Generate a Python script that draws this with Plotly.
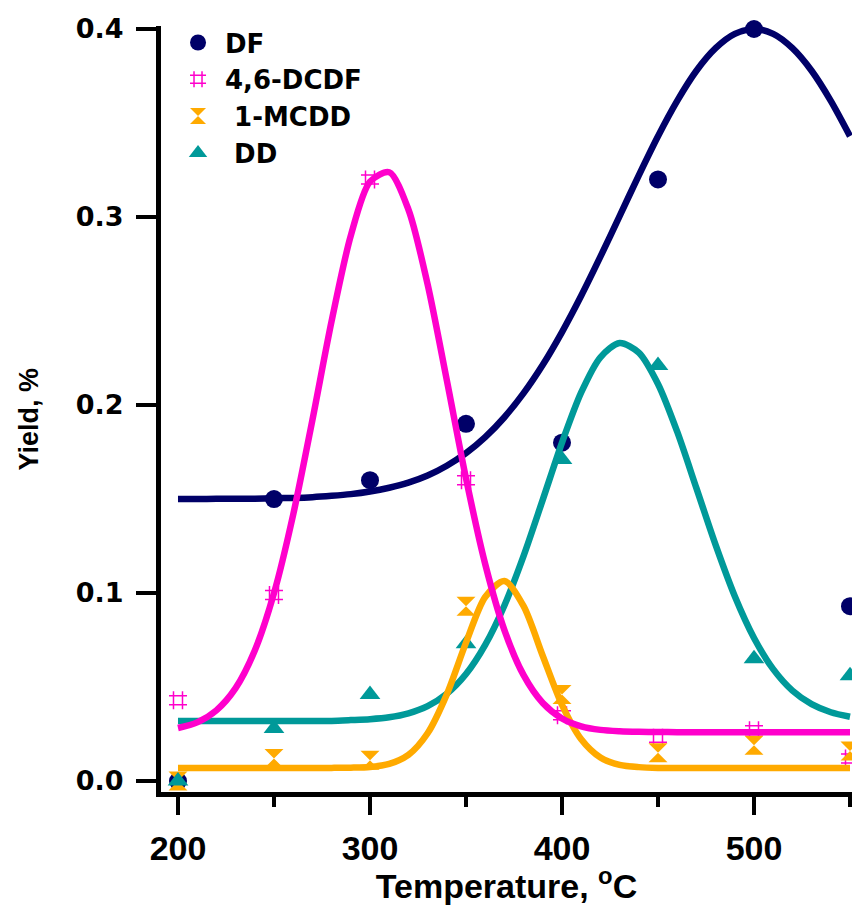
import plotly.graph_objects as go

# ---- measured data points ----
temps = [200, 250, 300, 350, 400, 450, 500, 550]
df_yield = [0.000, 0.150, 0.160, 0.190, 0.180, 0.320, 0.400, 0.093]
dcdf_yield = [0.043, 0.099, 0.320, 0.160, 0.035, 0.023, 0.027, 0.012]
mcdd_yield = [0.000, 0.012, 0.011, 0.093, 0.046, 0.015, 0.019, 0.016]
dd_yield = [0.000, 0.028, 0.046, 0.073, 0.171, 0.221, 0.065, 0.056]

# ---- fitted curves, every 10 degrees ----
curve_t = [200, 210, 220, 230, 240, 250, 260, 270, 280, 290,
           300, 310, 320, 330, 340, 350, 360, 370, 380, 390,
           400, 410, 420, 430, 440, 450, 460, 470, 480, 490,
           500, 510, 520, 530, 540, 550]
df_curve = [0.1500, 0.1500, 0.1501, 0.1501, 0.1502, 0.1504, 0.1506, 0.1510, 0.1517, 0.1526,
            0.1540, 0.1560, 0.1587, 0.1625, 0.1677, 0.1744, 0.1829, 0.1935, 0.2063, 0.2214,
            0.2388, 0.2581, 0.2789, 0.3005, 0.3222, 0.3430, 0.3618, 0.3778, 0.3898, 0.3974,
            0.4000, 0.3974, 0.3898, 0.3778, 0.3618, 0.3430]
dcdf_curve = [0.0282, 0.0312, 0.0376, 0.0494, 0.0694, 0.0999, 0.1417, 0.1920, 0.2446, 0.2901,
              0.3188, 0.3238, 0.3040, 0.2642, 0.2132, 0.1610, 0.1154, 0.0803, 0.0563, 0.0415,
              0.0333, 0.0291, 0.0272, 0.0265, 0.0262, 0.0261, 0.0260, 0.0260, 0.0260, 0.0260,
              0.0260, 0.0260, 0.0260, 0.0260, 0.0260, 0.0260]
mcdd_curve = [0.0070, 0.0070, 0.0070, 0.0070, 0.0070, 0.0070, 0.0070, 0.0070, 0.0070, 0.0071,
              0.0075, 0.0091, 0.0139, 0.0254, 0.0461, 0.0736, 0.0979, 0.1064, 0.0930, 0.0665,
              0.0405, 0.0222, 0.0125, 0.0086, 0.0074, 0.0070, 0.0070, 0.0070, 0.0070, 0.0070,
              0.0070, 0.0070, 0.0070, 0.0070, 0.0070, 0.0070]
dd_curve = [0.0320, 0.0320, 0.0320, 0.0320, 0.0320, 0.0320, 0.0320, 0.0320, 0.0320, 0.0324,
            0.0329, 0.0339, 0.0360, 0.0398, 0.0464, 0.0569, 0.0724, 0.0934, 0.1198, 0.1497,
            0.1800, 0.2067, 0.2254, 0.2330, 0.2279, 0.2112, 0.1858, 0.1558, 0.1256, 0.0983,
            0.0761, 0.0595, 0.0481, 0.0409, 0.0366, 0.0342]

series_names = ["DF", "4,6-DCDF", " 1-MCDD", " DD"]
colors = ["#000068", "#FF00CC", "#FFAA00", "#009999"]

x_tickvals = [200, 300, 400, 500]
y_tickvals = [0.0, 0.1, 0.2, 0.3, 0.4]
y_ticktext = ["0.0", "0.1", "0.2", "0.3", "0.4"]

fig = go.Figure()

# markers
fig.add_trace(go.Scatter(x=temps, y=df_yield, mode="markers", name=series_names[0],
                         marker=dict(symbol="circle", size=18, color=colors[0]),
                         cliponaxis=False))
fig.add_trace(go.Scatter(x=temps, y=dcdf_yield, mode="markers", name=series_names[1],
                         marker=dict(symbol="hash-open", size=18, color=colors[1],
                                     line=dict(color=colors[1], width=1.5)),
                         cliponaxis=False))
fig.add_trace(go.Scatter(x=temps, y=mcdd_yield, mode="markers", name=series_names[2],
                         marker=dict(symbol="hourglass", size=19, color=colors[2]),
                         cliponaxis=False))
fig.add_trace(go.Scatter(x=temps, y=dd_yield, mode="markers", name=series_names[3],
                         marker=dict(symbol="triangle-up", size=18, color=colors[3]),
                         cliponaxis=False))

# curves
for yy, c in [(df_curve, colors[0]), (dd_curve, colors[3]),
              (mcdd_curve, colors[2]), (dcdf_curve, colors[1])]:
    fig.add_trace(go.Scatter(x=curve_t, y=yy, mode="lines", showlegend=False,
                             line=dict(color=c, width=6.5, shape="spline", smoothing=0.8),
                             hoverinfo="skip"))

axis_font = dict(family="Liberation Sans, Arial, sans-serif", size=34, color="black", weight="bold")
ytick_font = dict(family="DejaVu Sans, sans-serif", size=27, color="black", weight="bold")
legend_font = dict(family="DejaVu Sans, sans-serif", size=26, color="black", weight="bold")
ytitle_font = dict(family="Liberation Sans, Arial, sans-serif", size=27, color="black", weight="bold")

fig.update_layout(
    width=852, height=905,
    margin=dict(l=161, r=0, t=26, b=110),
    paper_bgcolor="white", plot_bgcolor="white",
    showlegend=True,
    legend=dict(x=0.0145, y=1.009, xanchor="left", yanchor="top",
                font=legend_font, bgcolor="rgba(0,0,0,0)", borderwidth=0,
                itemwidth=44, tracegroupgap=0),
    xaxis=dict(range=[191.15, 551.04], showgrid=False, zeroline=False,
               showline=True, linecolor="black", linewidth=5,
               ticks="outside", ticklen=18, tickwidth=4, tickcolor="black",
               tickvals=x_tickvals, tickfont=axis_font, ticklabelstandoff=4,
               minor=dict(dtick=50, tick0=250, ticks="outside", ticklen=10,
                          tickwidth=4, tickcolor="black", showgrid=False),
               title=dict(text="Temperature, <sup>o</sup>C", font=axis_font, standoff=14)),
    yaxis=dict(range=[-0.00583, 0.4016], showgrid=False, zeroline=False,
               showline=True, linecolor="black", linewidth=5,
               ticks="outside", ticklen=20, tickwidth=4, tickcolor="black",
               tickvals=y_tickvals, ticktext=y_ticktext, tickfont=ytick_font,
               ticklabelstandoff=7),
    annotations=[dict(text="Yield, %", textangle=-90, font=ytitle_font,
                      xref="paper", yref="paper", x=-0.1896, y=0.4876,
                      xanchor="center", yanchor="middle", showarrow=False)],
)

fig.write_html("out.html", post_script="document.body.style.margin='0px';",
               config={"displayModeBar": False})
